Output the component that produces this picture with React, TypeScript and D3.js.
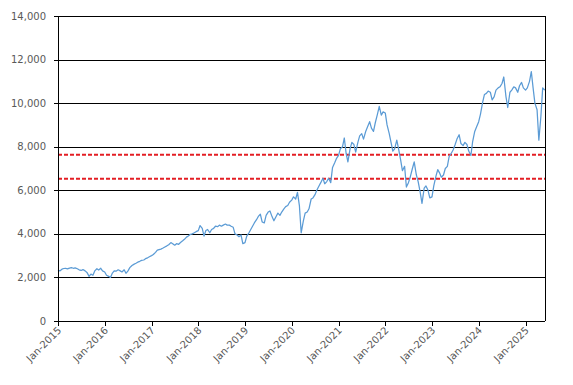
import React, { useEffect, useRef } from "react";
import * as d3 from "d3";

// semi-monthly readings (1st and 15th of each month)
const values2015 = [2340, 2300, 2380, 2410, 2420, 2390, 2430, 2450, 2420, 2440, 2400, 2350, 2320, 2360, 2300, 2230, 2050, 2150, 2100, 2300, 2400, 2340, 2420, 2300];
const values2016 = [2250, 2100, 2050, 2000, 2200, 2300, 2290, 2350, 2300, 2250, 2350, 2190, 2300, 2450, 2550, 2600, 2650, 2700, 2740, 2780, 2800, 2860, 2900, 2950];
const values2017 = [3000, 3050, 3150, 3250, 3280, 3300, 3350, 3400, 3450, 3500, 3600, 3550, 3480, 3550, 3520, 3600, 3680, 3750, 3850, 3900, 3980, 4000, 4050, 4100];
const values2018 = [4150, 4380, 4250, 3900, 4150, 4200, 4050, 4200, 4250, 4350, 4330, 4400, 4350, 4400, 4450, 4400, 4400, 4350, 4300, 4000, 3950, 3870, 3950, 3550];
const values2019 = [3600, 3900, 4050, 4200, 4350, 4500, 4650, 4800, 4900, 4550, 4500, 4850, 5000, 5050, 4780, 4600, 4800, 4950, 4850, 5000, 5150, 5250, 5300, 5450];
const values2020 = [5550, 5700, 5600, 5900, 5300, 4050, 4600, 4950, 5000, 5150, 5600, 5650, 5800, 6000, 6200, 6350, 6550, 6300, 6400, 6550, 6350, 7050, 7250, 7450];
const values2021 = [7600, 7900, 8000, 8400, 7700, 7300, 7900, 8200, 8100, 7750, 8200, 8500, 8600, 8350, 8700, 8900, 9150, 8850, 8700, 9100, 9500, 9850, 9450, 9600];
const values2022 = [9550, 9000, 8600, 8200, 7800, 7900, 8300, 7900, 7400, 6900, 7100, 6150, 6350, 6600, 7000, 7300, 6700, 6400, 5900, 5400, 6100, 6200, 6000, 5650];
const values2023 = [5700, 6200, 6650, 6950, 6800, 6600, 6700, 7000, 7100, 7550, 7700, 7850, 8100, 8350, 8550, 8150, 8050, 8200, 8100, 7800, 7600, 8250, 8700, 8900];
const values2024 = [9150, 9500, 10050, 10400, 10450, 10550, 10500, 10150, 10300, 10600, 10700, 10750, 10900, 11200, 10300, 9800, 10500, 10600, 10750, 10700, 10500, 10800, 10950, 10700];
const values2025 = [10600, 10700, 11000, 11450, 10700, 10000, 9700, 8300, 9400, 10700, 10600];

const seriesByYear: [number, number[]][] = [
  [2015, values2015],
  [2016, values2016],
  [2017, values2017],
  [2018, values2018],
  [2019, values2019],
  [2020, values2020],
  [2021, values2021],
  [2022, values2022],
  [2023, values2023],
  [2024, values2024],
  [2025, values2025],
];

const yTicks = [0, 2000, 4000, 6000, 8000, 10000, 12000, 14000];
const tickYears = [2015, 2016, 2017, 2018, 2019, 2020, 2021, 2022, 2023, 2024, 2025];
const refLevels = [7630, 6530];

const points = seriesByYear.flatMap(([year, vals]) =>
  vals.map((v, i) => ({
    date: new Date(year, Math.floor(i / 2), i % 2 === 0 ? 1 : 15),
    value: v,
  }))
);

const App = () => {
  const chartRef = useRef<SVGSVGElement>(null);

  useEffect(() => {
    const width = 573;
    const height = 385;
    const left = 58;
    const right = 545;
    const top = 16;
    const bottom = 321;

    const x = d3
      .scaleTime()
      .domain([new Date(2015, 0, 1), new Date(2025, 5, 2)])
      .range([left, right]);
    const y = d3.scaleLinear().domain([0, 14000]).range([bottom, top]);
    const crisp = (v: number) => Math.round(v) + 0.5;

    const svg = d3.select(chartRef.current);
    svg.selectAll("*").remove();
    svg.attr("width", width).attr("height", height);

    svg.append("rect").attr("width", width).attr("height", height).attr("fill", "#fff");

    // gridlines
    svg
      .append("g")
      .selectAll("line")
      .data(yTicks.filter((t) => t > 0))
      .join("line")
      .attr("x1", left)
      .attr("x2", right)
      .attr("y1", (d) => crisp(y(d)))
      .attr("y2", (d) => crisp(y(d)))
      .attr("stroke", "#000")
      .attr("stroke-width", 1);

    // y axis labels + tick marks
    const yg = svg.append("g");
    yg.selectAll("line")
      .data(yTicks)
      .join("line")
      .attr("x1", left - 4)
      .attr("x2", left)
      .attr("y1", (d) => crisp(y(d)))
      .attr("y2", (d) => crisp(y(d)))
      .attr("stroke", "#000");
    yg.selectAll("text")
      .data(yTicks)
      .join("text")
      .attr("x", left - 12)
      .attr("y", (d) => y(d))
      .attr("dy", "0.35em")
      .attr("text-anchor", "end")
      .attr("font-family", "DejaVu Sans")
      .attr("font-size", 10)
      .attr("fill", "#595959")
      .text((d) => d3.format(",")(d));

    // reference levels
    svg
      .append("g")
      .selectAll("line")
      .data(refLevels)
      .join("line")
      .attr("x1", left)
      .attr("x2", right)
      .attr("y1", (d) => y(d))
      .attr("y2", (d) => y(d))
      .attr("stroke", "#e31e24")
      .attr("stroke-width", 2)
      .attr("stroke-dasharray", "4,2");

    // series
    const line = d3
      .line<{ date: Date; value: number }>()
      .x((d) => x(d.date))
      .y((d) => y(d.value));
    svg
      .append("path")
      .datum(points)
      .attr("d", line)
      .attr("fill", "none")
      .attr("stroke", "#5b9bd5")
      .attr("stroke-width", 1.25)
      .attr("stroke-linejoin", "round");

    // axes frame
    svg
      .append("line")
      .attr("x1", crisp(left))
      .attr("x2", crisp(left))
      .attr("y1", top)
      .attr("y2", bottom)
      .attr("stroke", "#000");
    svg
      .append("line")
      .attr("x1", crisp(right))
      .attr("x2", crisp(right))
      .attr("y1", top)
      .attr("y2", bottom)
      .attr("stroke", "#000");
    svg
      .append("line")
      .attr("x1", left)
      .attr("x2", right)
      .attr("y1", crisp(bottom))
      .attr("y2", crisp(bottom))
      .attr("stroke", "#000");

    // x axis ticks + rotated labels
    const xg = svg.append("g");
    const tickDates = tickYears.map((yr) => new Date(yr, 0, 1));
    xg.selectAll("line")
      .data(tickDates)
      .join("line")
      .attr("x1", (d) => crisp(x(d)))
      .attr("x2", (d) => crisp(x(d)))
      .attr("y1", bottom)
      .attr("y2", bottom + 5)
      .attr("stroke", "#000");
    xg.selectAll("text")
      .data(tickDates)
      .join("text")
      .attr("transform", (d) => `translate(${x(d) + 4},${bottom + 10}) rotate(-45)`)
      .attr("text-anchor", "end")
      .attr("font-family", "DejaVu Sans")
      .attr("font-size", 10)
      .attr("fill", "#595959")
      .text((d) => d3.timeFormat("%b-%Y")(d));
  }, []);

  return (
    <svg
      ref={chartRef}
      style={{ position: "absolute", left: 0, top: 0, display: "block" }}
    ></svg>
  );
};

export default App;
